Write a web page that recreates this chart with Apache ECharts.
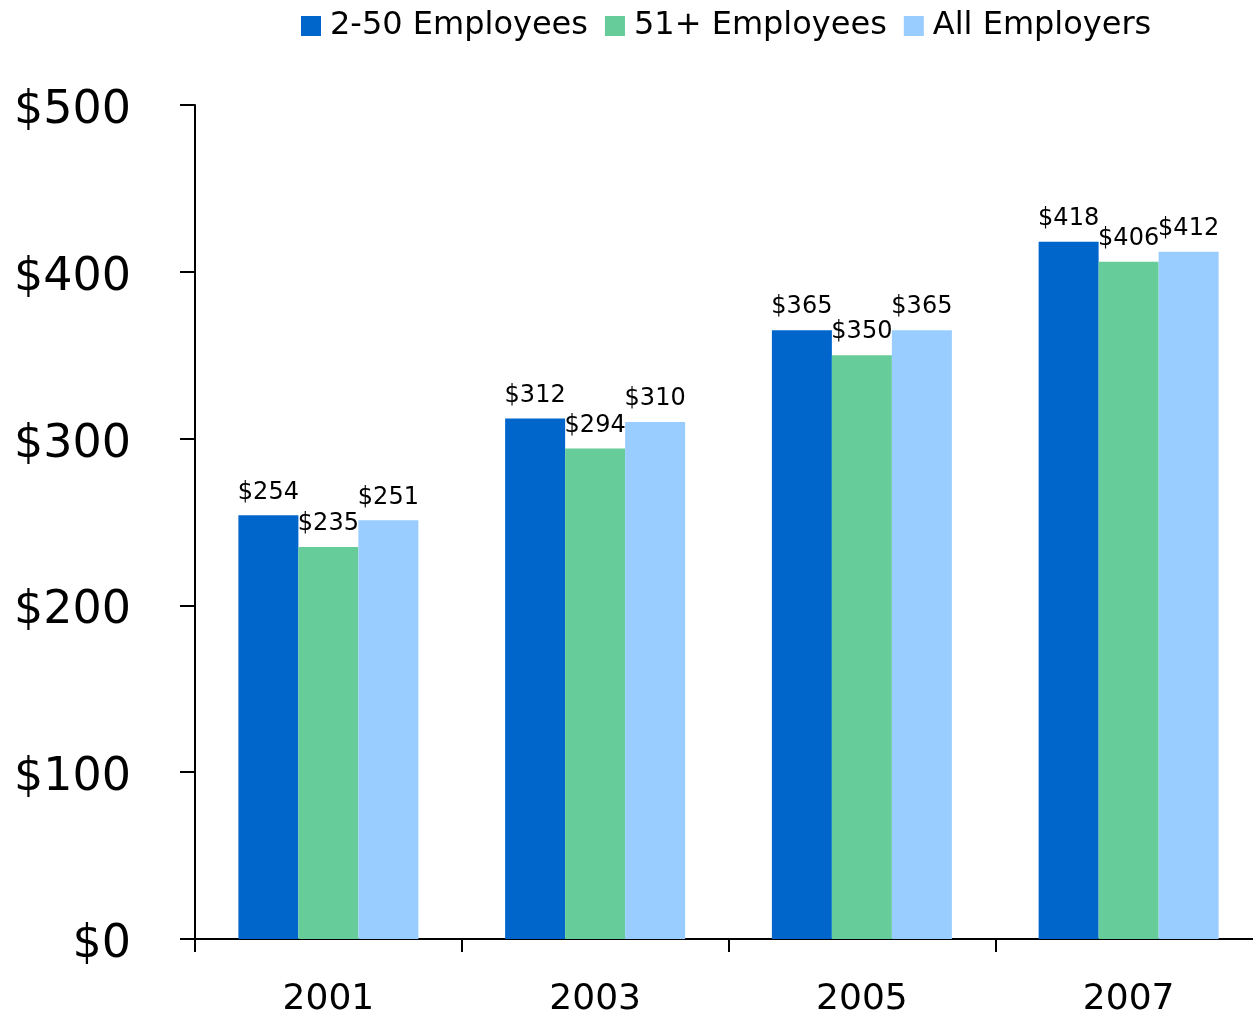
<!DOCTYPE html>
<html>
<head>
<meta charset="utf-8">
<script src="https://cdn.jsdelivr.net/npm/echarts@6/dist/echarts.min.js"></script>
<style>
  html, body { margin: 0; padding: 0; background: #fff; }
  #chart { width: 1253px; height: 1014px; }
</style>
</head>
<body>
<div id="chart"></div>
<script>
// Average monthly premium by employer size
const years = ['2001', '2003', '2005', '2007'];
const seriesNames = ['2-50 Employees', '51+ Employees', 'All Employers'];
const small = [254, 312, 365, 418];
const large = [235, 294, 350, 406];
const all = [251, 310, 365, 412];
const colors = ['#0066CC', '#66CC99', '#99CCFF'];

const FONT = 'DejaVu Sans';

function barSeries(name, data, color) {
  return {
    name: name,
    type: 'bar',
    data: data,
    barWidth: 60,
    barGap: '0%',
    itemStyle: { color: color },
    label: {
      show: true,
      position: 'top',
      distance: 11,
      formatter: p => '$' + p.value,
      fontFamily: FONT,
      fontSize: 24,
      color: '#000'
    }
  };
}

const chart = echarts.init(document.getElementById('chart'), null, { renderer: 'canvas' });
chart.setOption({
  backgroundColor: '#fff',
  animation: false,
  color: colors,
  legend: {
    top: 5,
    left: 296,
    itemWidth: 20,
    itemHeight: 20,
    itemGap: 17,
    icon: 'rect',
    textStyle: { fontFamily: FONT, fontSize: 32, color: '#000', padding: [0, 0, 0, 4] },
    data: seriesNames
  },
  // the plot runs a little past the right edge of the canvas
  grid: { left: 195, width: 1067, top: 105, height: 834, outerBoundsMode: 'none', containLabel: false },
  xAxis: {
    type: 'category',
    data: years,
    axisLine: { lineStyle: { color: '#000', width: 2 } },
    axisTick: { show: true, length: 13, lineStyle: { color: '#000', width: 2 } },
    axisLabel: { fontFamily: FONT, fontSize: 36, color: '#000', margin: 43 }
  },
  yAxis: {
    type: 'value',
    min: 0,
    max: 500,
    interval: 100,
    splitLine: { show: false },
    axisLine: { show: true, lineStyle: { color: '#000', width: 2 } },
    axisTick: { show: true, length: 15, lineStyle: { color: '#000', width: 2 } },
    axisLabel: {
      color: '#000',
      margin: 64,
      formatter: v => '{v|$' + v + '}',
      rich: {
        v: { fontFamily: FONT, fontSize: 46, color: '#000', padding: [12, 0, 0, 0] }
      }
    }
  },
  series: [
    barSeries(seriesNames[0], small, colors[0]),
    barSeries(seriesNames[1], large, colors[1]),
    barSeries(seriesNames[2], all, colors[2])
  ]
});
</script>
</body>
</html>
